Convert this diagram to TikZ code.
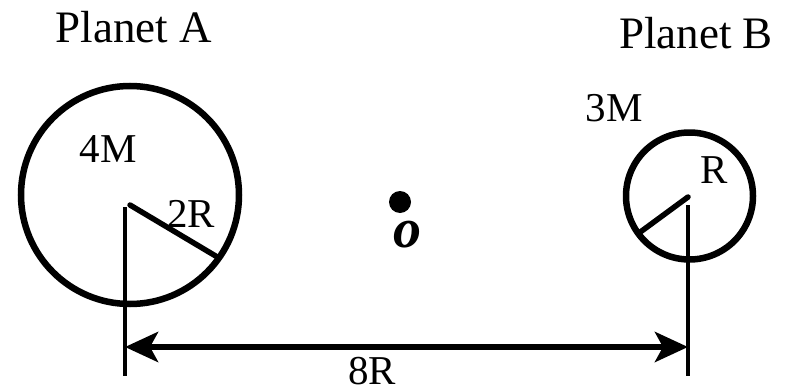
\documentclass[tikz,border=0pt]{standalone}
\usepackage{fontspec}
\setmainfont{Liberation Serif}
\usetikzlibrary{arrows.meta}
\begin{document}
\begin{tikzpicture}[x=1pt,y=-1pt,
  planet/.style={circle,draw,line width=6.5pt,inner sep=0pt},
  lbl/.style={font=\fontsize{41}{41}\selectfont,inner sep=0pt},
  ttl/.style={font=\fontsize{45}{45}\selectfont,inner sep=0pt},
  radline/.style={line width=5.5pt},
  tick/.style={line width=3.5pt},
  dim/.style={line width=6pt,{Stealth[length=33pt,width=30pt,inset=8pt]}-{Stealth[length=33pt,width=30pt,inset=8pt]}}]
\useasboundingbox (0,0) rectangle (790,388);
% planets
\node[planet,minimum size=218pt] (pa) at (130,195) {};
\node[planet,minimum size=127pt] (pb) at (689.5,196) {};
% radius lines
\coordinate (a0) at (130,205);
\coordinate (a1) at (219,258);
\coordinate (b0) at (688,197);
\coordinate (b1) at (639,233);
\draw[radline,line cap=round] (a0) -- (a1);
\draw[radline,line cap=round] (b0) -- (b1);
% vertical ticks
\coordinate (va0) at (125,207);
\coordinate (va1) at (125,376);
\coordinate (vb0) at (688,205);
\coordinate (vb1) at (688,376);
\draw[tick] (va0) -- (va1);
\draw[tick] (vb0) -- (vb1);
% dimension arrow
\coordinate (d0) at (125,347);
\coordinate (d1) at (688,347);
\draw[dim] (d0) -- (d1);
% centre point
\node[circle,fill,minimum size=22pt,inner sep=0pt] (o) at (400,202) {};
% labels
\node[ttl] (ta) at (134,27) {Planet A};
\node[ttl] (tb) at (696,33) {Planet B};
\node[lbl] (m4) at (108,149) {4M};
\node[lbl] (r2) at (191,214) {2R};
\node[lbl] (m3) at (614,108) {3M};
\node[lbl] (r1) at (714,170) {R};
\node[lbl,anchor=north] (r8) at (372,357) {8R};
\node[inner sep=0pt,font=\fontsize{56}{56}\selectfont\bfseries\itshape] (ol) at (407,235) {o};
\end{tikzpicture}
\end{document}
